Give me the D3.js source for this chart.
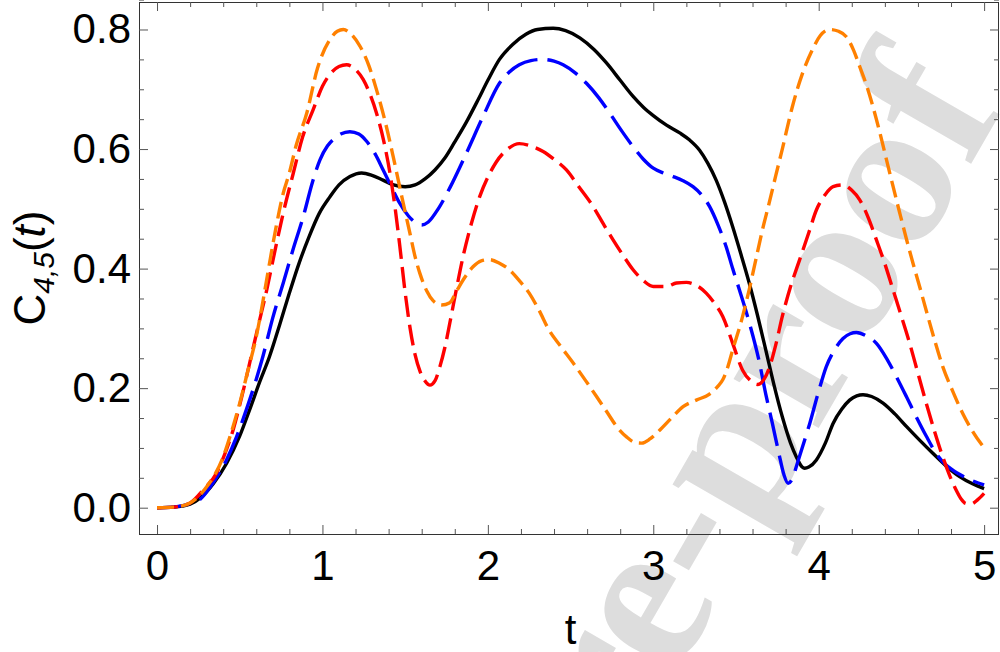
<!DOCTYPE html>
<html>
<head>
<meta charset="utf-8">
<script src="https://cdn.jsdelivr.net/npm/d3@7"></script>
<style>
  html, body { margin: 0; padding: 0; background: #fff; }
  svg { display: block; }
</style>
</head>
<body>
<svg id="chart" width="1000" height="652"></svg>
<script>
// ---- data ----
const tBlack = [0,0.1,0.2,0.26,0.34,0.42,0.5,0.56,0.62,0.68,0.74,0.8,0.86,0.92,0.98,1.045,1.1,1.166,1.237,1.3,1.366,1.43,1.5,1.56,1.62,1.68,1.74,1.8,1.87,1.94,2.0,2.07,2.15,2.23,2.3,2.395,2.47,2.556,2.64,2.717,2.8,2.878,2.94,3.0,3.08,3.16,3.22,3.28,3.33,3.38,3.43,3.48,3.53,3.58,3.63,3.68,3.73,3.78,3.83,3.865,3.9,3.915,3.94,3.986,4.04,4.087,4.14,4.187,4.23,4.268,4.32,4.389,4.46,4.53,4.61,4.69,4.77,4.852,4.93,5.0];
const yBlack = [0,0.001,0.006,0.016,0.04,0.074,0.12,0.164,0.21,0.253,0.305,0.359,0.41,0.454,0.492,0.52,0.54,0.554,0.56,0.556,0.548,0.54,0.537,0.54,0.55,0.565,0.585,0.612,0.645,0.682,0.715,0.75,0.775,0.792,0.8,0.802,0.798,0.786,0.767,0.744,0.715,0.688,0.67,0.656,0.64,0.627,0.615,0.598,0.576,0.548,0.512,0.47,0.424,0.376,0.322,0.264,0.205,0.152,0.108,0.085,0.068,0.066,0.068,0.08,0.108,0.141,0.165,0.18,0.187,0.189,0.186,0.175,0.157,0.136,0.113,0.091,0.07,0.052,0.04,0.032];

const tBlue = [0,0.1,0.2,0.26,0.34,0.42,0.48,0.54,0.6,0.64,0.7,0.763,0.82,0.884,0.94,0.985,1.03,1.065,1.11,1.166,1.22,1.267,1.32,1.367,1.42,1.468,1.52,1.569,1.6,1.64,1.7,1.77,1.87,1.97,2.07,2.13,2.19,2.26,2.334,2.4,2.455,2.53,2.596,2.67,2.737,2.81,2.878,2.94,3.0,3.06,3.12,3.18,3.24,3.29,3.34,3.39,3.44,3.48,3.52,3.58,3.64,3.68,3.72,3.76,3.79,3.815,3.84,3.865,3.9,3.946,4.0,4.046,4.1,4.147,4.19,4.228,4.29,4.349,4.41,4.47,4.53,4.59,4.65,4.71,4.76,4.81,4.87,4.93,5.0];
const yBlue = [0,0.001,0.007,0.014,0.042,0.08,0.118,0.164,0.215,0.253,0.318,0.376,0.43,0.487,0.545,0.582,0.605,0.616,0.625,0.629,0.625,0.613,0.591,0.565,0.535,0.509,0.488,0.476,0.473,0.478,0.5,0.535,0.593,0.654,0.71,0.729,0.741,0.748,0.75,0.747,0.741,0.727,0.71,0.686,0.66,0.63,0.604,0.583,0.568,0.56,0.554,0.547,0.537,0.524,0.504,0.474,0.437,0.4,0.365,0.31,0.245,0.19,0.141,0.09,0.055,0.041,0.048,0.069,0.1,0.141,0.195,0.236,0.266,0.283,0.291,0.293,0.287,0.275,0.25,0.219,0.186,0.152,0.12,0.091,0.074,0.063,0.053,0.045,0.038];

const tRed = [0,0.1,0.2,0.28,0.36,0.41,0.46,0.51,0.56,0.61,0.663,0.713,0.763,0.824,0.88,0.944,1.0,1.045,1.1,1.146,1.2,1.247,1.29,1.327,1.37,1.408,1.44,1.468,1.5,1.53,1.56,1.59,1.62,1.65,1.68,1.71,1.74,1.77,1.81,1.85,1.9,1.95,2.0,2.05,2.12,2.19,2.26,2.334,2.4,2.475,2.55,2.636,2.7,2.757,2.82,2.878,2.94,3.0,3.08,3.14,3.2,3.26,3.32,3.37,3.42,3.48,3.54,3.59,3.63,3.67,3.7,3.74,3.78,3.83,3.885,3.94,3.986,4.04,4.087,4.147,4.2,4.248,4.3,4.349,4.4,4.45,4.5,4.55,4.6,4.65,4.7,4.75,4.79,4.83,4.86,4.89,4.92,4.96,5.0];
const yRed = [0,0.001,0.008,0.03,0.058,0.09,0.13,0.183,0.242,0.302,0.364,0.43,0.493,0.56,0.62,0.666,0.705,0.725,0.738,0.741,0.733,0.716,0.69,0.66,0.614,0.56,0.5,0.437,0.36,0.3,0.256,0.228,0.212,0.205,0.212,0.236,0.268,0.309,0.366,0.42,0.475,0.52,0.553,0.578,0.6,0.609,0.605,0.596,0.583,0.565,0.537,0.504,0.474,0.448,0.421,0.398,0.38,0.37,0.37,0.376,0.377,0.372,0.359,0.342,0.32,0.275,0.23,0.212,0.206,0.215,0.233,0.272,0.32,0.37,0.415,0.46,0.498,0.524,0.537,0.54,0.531,0.515,0.485,0.448,0.408,0.364,0.32,0.275,0.225,0.175,0.128,0.085,0.055,0.03,0.015,0.007,0.006,0.013,0.024];

const tOrange = [0,0.1,0.2,0.3,0.4,0.45,0.5,0.55,0.6,0.64,0.68,0.72,0.763,0.8,0.84,0.905,0.97,1.045,1.09,1.126,1.17,1.227,1.28,1.327,1.38,1.428,1.48,1.529,1.56,1.589,1.63,1.67,1.72,1.77,1.81,1.86,1.91,1.96,2.01,2.07,2.13,2.19,2.25,2.31,2.37,2.44,2.516,2.59,2.657,2.72,2.778,2.84,2.89,2.93,2.98,3.04,3.11,3.18,3.26,3.34,3.39,3.42,3.45,3.48,3.54,3.58,3.62,3.66,3.7,3.74,3.78,3.84,3.9,3.96,4.01,4.066,4.12,4.167,4.21,4.248,4.29,4.328,4.37,4.41,4.45,4.49,4.53,4.57,4.61,4.65,4.7,4.75,4.81,4.87,4.93,5.0];
const yOrange = [0,0.001,0.008,0.035,0.085,0.127,0.175,0.23,0.286,0.345,0.409,0.47,0.526,0.56,0.605,0.66,0.735,0.783,0.797,0.8,0.793,0.772,0.74,0.699,0.645,0.587,0.52,0.459,0.42,0.392,0.363,0.346,0.339,0.343,0.362,0.385,0.403,0.413,0.415,0.409,0.398,0.38,0.359,0.33,0.297,0.27,0.242,0.213,0.186,0.16,0.136,0.118,0.109,0.108,0.115,0.13,0.15,0.169,0.18,0.19,0.203,0.214,0.235,0.264,0.32,0.365,0.415,0.465,0.509,0.555,0.6,0.67,0.725,0.765,0.79,0.8,0.797,0.788,0.766,0.738,0.706,0.671,0.627,0.582,0.537,0.493,0.45,0.409,0.37,0.33,0.281,0.236,0.195,0.158,0.128,0.1];

const xTicks = [0,1,2,3,4,5];
const yTicks = [0.0,0.2,0.4,0.6,0.8];
const xLabel = "t";

const series = [
  {t: tBlack,  y: yBlack,  color: "#000000", dash: null},
  {t: tBlue,   y: yBlue,   color: "#0000ff", dash: "34,10"},
  {t: tRed,    y: yRed,    color: "#ff0000", dash: "21,8"},
  {t: tOrange, y: yOrange, color: "#ff8000", dash: "17,7"}
];

// ---- layout ----
const L = 139, R = 999, T = 2, B = 534;
const svg = d3.select("#chart");
const x = d3.scaleLinear().domain([-0.109, 5.09]).range([L, R]);
const y = d3.scaleLinear().domain([-0.044, 0.846]).range([B, T]);

// watermark
svg.append("text")
  .attr("transform", "translate(1004,107) rotate(-60)")
  .attr("text-anchor", "end")
  .attr("font-family", "'Liberation Serif', 'Times New Roman', serif")
  .attr("font-weight", "bold")
  .attr("font-size", 214)
  .attr("fill", "#dddddd")
  .text("Journal Pre-proof");

// clip
svg.append("clipPath").attr("id", "clip")
  .append("rect").attr("x", L).attr("y", T).attr("width", R - L).attr("height", B - T);

const line = d3.line().x(d => x(d[0])).y(d => y(d[1])).curve(d3.curveMonotoneX);
const g = svg.append("g").attr("clip-path", "url(#clip)");
series.forEach(s => {
  const pts = s.t.map((tv, i) => [tv, s.y[i]]);
  g.append("path").datum(pts)
    .attr("d", line)
    .attr("fill", "none")
    .attr("stroke", s.color)
    .attr("stroke-width", 3.4)
    .attr("stroke-dasharray", s.dash)
    .attr("stroke-linejoin", "round");
});

// frame
svg.append("rect").attr("x", L + 0.5).attr("y", T + 0.5).attr("width", R - L - 1).attr("height", B - T)
  .attr("fill", "none").attr("stroke", "#333").attr("stroke-width", 1);

// ticks via axes
const xMinor = d3.range(0, 5.01, 0.2).filter(v => Math.abs(v - Math.round(v)) > 1e-6);
const yMinor = d3.range(-0.0, 0.8501, 0.05).filter(v => Math.abs(v*5 - Math.round(v*5)) > 1e-6);
const tickFont = "'Liberation Sans', Arial, sans-serif";

function styleAxis(sel) {
  sel.select(".domain").remove();
  sel.selectAll("line").attr("stroke", "#555").attr("stroke-width", 1);
}
// bottom
svg.append("g").attr("transform", `translate(0,${B})`)
  .call(d3.axisBottom(x).tickValues(xTicks).tickSize(-9).tickFormat(d3.format("d")).tickPadding(16))
  .call(styleAxis)
  .call(a => a.selectAll("text").attr("font-family", tickFont).attr("font-size", 42).attr("fill", "#000").attr("dy", "0.71em"));
svg.append("g").attr("transform", `translate(0,${B})`)
  .call(d3.axisBottom(x).tickValues(xMinor).tickSize(-5).tickFormat(""))
  .call(styleAxis);
// top
svg.append("g").attr("transform", `translate(0,${T})`)
  .call(d3.axisTop(x).tickValues(xTicks).tickSize(-9).tickFormat(""))
  .call(styleAxis);
svg.append("g").attr("transform", `translate(0,${T})`)
  .call(d3.axisTop(x).tickValues(xMinor).tickSize(-5).tickFormat(""))
  .call(styleAxis);
// left
svg.append("g").attr("transform", `translate(${L},0)`)
  .call(d3.axisLeft(y).tickValues(yTicks).tickSize(-9).tickFormat(d3.format(".1f")).tickPadding(8))
  .call(styleAxis)
  .call(a => a.selectAll("text").attr("font-family", tickFont).attr("font-size", 42).attr("fill", "#000"));
svg.append("g").attr("transform", `translate(${L},0)`)
  .call(d3.axisLeft(y).tickValues(yMinor).tickSize(-5).tickFormat(""))
  .call(styleAxis);
// right
svg.append("g").attr("transform", `translate(${R},0)`)
  .call(d3.axisRight(y).tickValues(yTicks).tickSize(-9).tickFormat(""))
  .call(styleAxis);
svg.append("g").attr("transform", `translate(${R},0)`)
  .call(d3.axisRight(y).tickValues(yMinor).tickSize(-5).tickFormat(""))
  .call(styleAxis);

// axis labels
svg.append("text")
  .attr("x", (x(0) + x(5)) / 2).attr("y", 644)
  .attr("text-anchor", "middle")
  .attr("font-family", tickFont).attr("font-size", 42)
  .text(xLabel);

const yl = svg.append("text")
  .attr("transform", `translate(45,${(T + B) / 2}) rotate(-90)`)
  .attr("text-anchor", "middle")
  .attr("font-family", tickFont).attr("font-size", 44);
yl.append("tspan").text("C");
yl.append("tspan").attr("font-style", "italic").attr("font-size", 30).attr("dy", 9).text("4,5");
yl.append("tspan").attr("dy", -9).text("(");
yl.append("tspan").attr("font-style", "italic").text("t");
yl.append("tspan").text(")");
</script>
</body>
</html>
